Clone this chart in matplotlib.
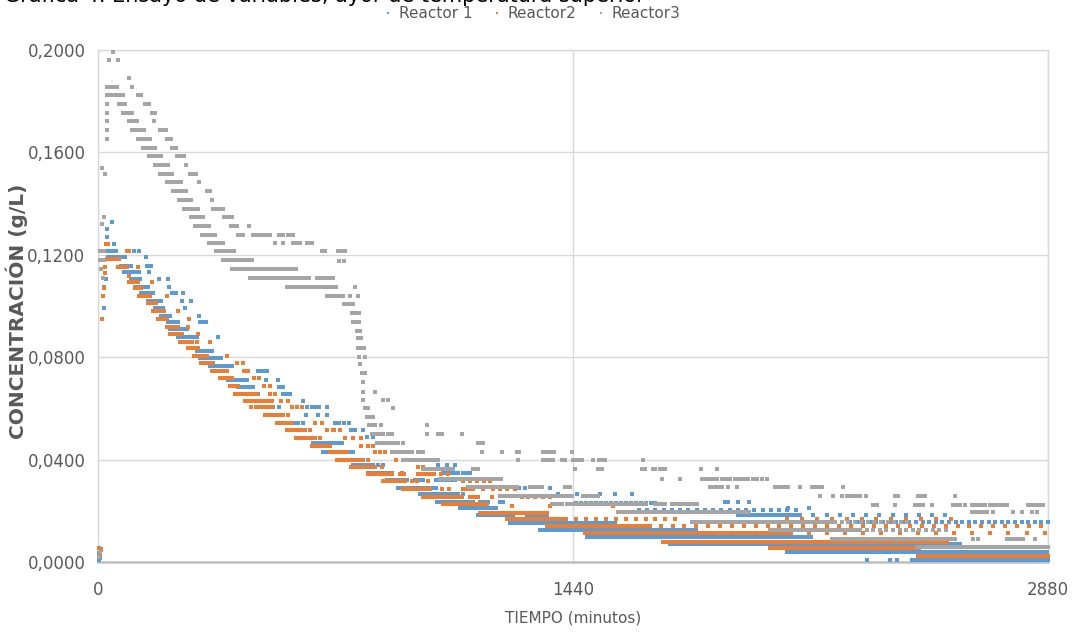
import numpy as np
import matplotlib
matplotlib.use("Agg")
import matplotlib.pyplot as plt
from matplotlib.ticker import FuncFormatter
from matplotlib.lines import Line2D

# Colores tipo Excel
azul = "#5B9BD5"
naranja = "#ED7D31"
gris = "#A5A5A5"
texto = "#595959"

# Datos: tramos (t inicio, t fin, concentracion) en minutos y g/L
r1_tramos = [(30, 55, 0.1215), (30, 82, 0.1191), (70, 100, 0.1156), (79, 106, 0.1133), (100, 127, 0.1105),
             (112, 152, 0.1074), (130, 155, 0.1051), (152, 179, 0.1020), (173, 197, 0.0992), (191, 218, 0.0961),
             (212, 243, 0.0938), (309, 327, 0.0938), (218, 270, 0.0910), (243, 300, 0.0879), (300, 340, 0.0824),
             (309, 361, 0.0797), (340, 406, 0.0766), (485, 512, 0.0746), (394, 452, 0.0711), (424, 470, 0.0684),
             (461, 485, 0.0656), (561, 582, 0.0656), (500, 527, 0.0629), (512, 531, 0.0605), (649, 658, 0.0605),
             (588, 606, 0.0543), (652, 740, 0.0463), (682, 773, 0.0430), (728, 803, 0.0398), (773, 834, 0.0379),
             (819, 891, 0.0348), (1046, 1091, 0.0348), (1107, 1128, 0.0348), (876, 937, 0.0320), (961, 985, 0.0320),
             (1025, 1082, 0.0320), (909, 1028, 0.0289), (976, 1091, 0.0266), (1028, 1137, 0.0234), (1158, 1182, 0.0234),
             (1219, 1228, 0.0234), (1097, 1210, 0.0211), (1152, 1258, 0.0184), (1301, 1361, 0.0184), (1249, 1310, 0.0152),
             (1340, 1604, 0.0125), (1482, 2160, 0.0098), (1734, 2613, 0.0070), (2089, 2880, 0.0039), (2468, 2880, 0.0008)]
# tramos con puntos dispersos (t inicio, t fin, concentracion, separacion)
r1_dispersos = [(1310, 1573, 0.0152, 8), (1604, 1816, 0.0125, 10), (2280, 2880, 0.0156, 20), (1450, 1700, 0.0231, 15),
                (1640, 2130, 0.0203, 25), (1940, 2130, 0.0184, 12), (2089, 2590, 0.0184, 40)]
r1_puntos = [(3, 0.0035), (6, 0.0015), (9, 0.0050), (3, 0.0008), (42, 0.1328), (27, 0.1301), (27, 0.1270), (30, 0.1242),
             (48, 0.1242), (24, 0.1105), (18, 0.1074), (18, 0.0992), (109, 0.1215), (124, 0.1215), (146, 0.1191),
             (149, 0.1156), (161, 0.1156), (115, 0.1133), (124, 0.1133), (155, 0.1133), (185, 0.1105), (212, 0.1105),
             (215, 0.1074), (167, 0.1051), (224, 0.1051), (236, 0.1051), (258, 0.1051), (191, 0.1020), (255, 0.1020),
             (282, 0.1020), (264, 0.0992), (306, 0.0961), (364, 0.0879), (346, 0.0824), (373, 0.0797), (509, 0.0711),
             (546, 0.0711), (549, 0.0684), (561, 0.0684), (621, 0.0629), (549, 0.0605), (634, 0.0605), (670, 0.0605),
             (694, 0.0605), (631, 0.0574), (667, 0.0574), (694, 0.0574), (621, 0.0543), (718, 0.0543), (731, 0.0543),
             (746, 0.0543), (761, 0.0543), (767, 0.0516), (779, 0.0516), (803, 0.0516), (815, 0.0488), (834, 0.0488),
             (849, 0.0379), (864, 0.0379), (1031, 0.0379), (1058, 0.0379), (1082, 0.0379), (922, 0.0348), (1276, 0.0289),
             (1294, 0.0289), (1370, 0.0289), (1107, 0.0266), (1394, 0.0266), (1452, 0.0266), (1522, 0.0266),
             (1567, 0.0266), (1619, 0.0266), (1900, 0.0234), (1910, 0.0234), (1940, 0.0234), (1975, 0.0234),
             (2092, 0.0211), (2155, 0.0211), (2331, 0.0008), (2401, 0.0008), (2422, 0.0008)]

r2_tramos = [(24, 30, 0.1242), (88, 94, 0.1215), (27, 64, 0.1184), (61, 88, 0.1152), (94, 121, 0.1094), (112, 130, 0.1070),
             (124, 158, 0.1039), (152, 176, 0.1012), (167, 194, 0.0980), (182, 209, 0.0949), (209, 243, 0.0918),
             (218, 255, 0.0891), (249, 285, 0.0859), (273, 303, 0.0836), (291, 330, 0.0805), (312, 349, 0.0777),
             (346, 391, 0.0746), (370, 406, 0.0719), (400, 424, 0.0688), (415, 482, 0.0656), (446, 527, 0.0629),
             (479, 527, 0.0605), (506, 561, 0.0574), (543, 588, 0.0543), (573, 628, 0.0516), (600, 658, 0.0484),
             (649, 703, 0.0453), (703, 755, 0.0430), (725, 788, 0.0398), (776, 840, 0.0371), (819, 891, 0.0344),
             (970, 1006, 0.0344), (864, 931, 0.0316), (925, 1006, 0.0285), (1107, 1137, 0.0285), (985, 1107, 0.0254),
             (1128, 1152, 0.0254), (1046, 1179, 0.0227), (1158, 1279, 0.0191), (1285, 1361, 0.0191), (1240, 1422, 0.0168),
             (1361, 1673, 0.0141), (1476, 2089, 0.0113), (1713, 2574, 0.0078), (2037, 2492, 0.0055), (2486, 2880, 0.0023)]
r2_dispersos = [(1420, 1750, 0.0168, 30), (1670, 2880, 0.0141, 36), (2100, 2880, 0.0113, 55), (2090, 2600, 0.0168, 45)]
r2_puntos = [(3, 0.0055), (6, 0.0030), (9, 0.0045), (12, 0.0949), (15, 0.1039), (18, 0.1070), (21, 0.1129), (21, 0.1152),
             (27, 0.1242), (121, 0.1152), (94, 0.1117), (164, 0.1094), (209, 0.1039), (200, 0.0980), (243, 0.0980),
             (276, 0.0949), (273, 0.0918), (303, 0.0891), (300, 0.0859), (340, 0.0859), (391, 0.0805), (421, 0.0777),
             (440, 0.0777), (443, 0.0746), (455, 0.0746), (473, 0.0719), (488, 0.0719), (503, 0.0688), (521, 0.0688),
             (521, 0.0656), (537, 0.0656), (555, 0.0629), (576, 0.0629), (464, 0.0605), (588, 0.0605), (603, 0.0605),
             (618, 0.0605), (576, 0.0574), (658, 0.0543), (679, 0.0543), (643, 0.0516), (694, 0.0516), (712, 0.0516),
             (715, 0.0516), (734, 0.0516), (673, 0.0484), (749, 0.0484), (773, 0.0484), (797, 0.0484), (797, 0.0453),
             (819, 0.0453), (834, 0.0453), (840, 0.0430), (855, 0.0430), (870, 0.0430), (800, 0.0398), (819, 0.0398),
             (903, 0.0398), (925, 0.0398), (767, 0.0371), (861, 0.0371), (970, 0.0371), (985, 0.0371), (916, 0.0344),
             (928, 0.0344), (1019, 0.0344), (1040, 0.0344), (1061, 0.0344), (952, 0.0316), (967, 0.0316), (1000, 0.0316),
             (1107, 0.0316), (1128, 0.0316), (1149, 0.0316), (1170, 0.0316), (1188, 0.0316), (1043, 0.0285),
             (1064, 0.0285), (1167, 0.0285), (1197, 0.0285), (1219, 0.0285), (1240, 0.0285), (1264, 0.0285),
             (1194, 0.0254), (1285, 0.0254), (1304, 0.0254), (1325, 0.0254), (1349, 0.0254), (1370, 0.0254),
             (1255, 0.0219), (1370, 0.0219), (1561, 0.0219)]

r3_tramos = [(27, 45, 0.1855), (27, 76, 0.1824), (64, 82, 0.1789), (76, 103, 0.1754), (164, 173, 0.1754), (94, 118, 0.1723),
             (103, 139, 0.1688), (188, 206, 0.1688), (121, 158, 0.1652), (209, 221, 0.1652), (136, 173, 0.1617),
             (224, 236, 0.1617), (155, 191, 0.1586), (240, 261, 0.1586), (173, 212, 0.1551), (188, 224, 0.1516),
             (279, 297, 0.1516), (209, 252, 0.1484), (227, 267, 0.1449), (330, 340, 0.1449), (246, 282, 0.1414),
             (261, 303, 0.1379), (349, 379, 0.1379), (282, 318, 0.1348), (382, 406, 0.1348), (294, 336, 0.1313),
             (403, 421, 0.1313), (315, 355, 0.1277), (424, 440, 0.1277), (576, 591, 0.1277), (337, 379, 0.1246),
             (591, 612, 0.1246), (634, 649, 0.1246), (358, 412, 0.1215), (679, 688, 0.1215), (728, 749, 0.1215),
             (379, 467, 0.1180), (406, 482, 0.1145), (461, 643, 0.1109), (664, 712, 0.1109), (573, 725, 0.1074),
             (694, 743, 0.1039), (746, 773, 0.1008), (770, 782, 0.0973), (773, 788, 0.0938), (788, 806, 0.0836),
             (809, 818, 0.0602), (815, 834, 0.0566), (822, 840, 0.0535), (831, 864, 0.0500), (1031, 1043, 0.0500),
             (846, 909, 0.0465), (1152, 1167, 0.0465), (891, 952, 0.0430), (970, 985, 0.0430), (1349, 1361, 0.0430),
             (925, 1031, 0.0398), (1361, 1379, 0.0398), (1407, 1416, 0.0398), (1440, 1467, 0.0398), (1519, 1537, 0.0398),
             (985, 1076, 0.0363), (1137, 1152, 0.0363), (1516, 1528, 0.0363), (1649, 1658, 0.0363), (1682, 1689, 0.0363),
             (1704, 1719, 0.0363), (1037, 1164, 0.0326), (1831, 1877, 0.0326), (1892, 1916, 0.0326), (1931, 1971, 0.0326),
             (1986, 1998, 0.0326), (1122, 1137, 0.0293), (1149, 1270, 0.0293), (1310, 1346, 0.0293), (1416, 1431, 0.0293),
             (1855, 1892, 0.0293), (2052, 2092, 0.0293), (2165, 2195, 0.0293), (1219, 1440, 0.0258), (1470, 1516, 0.0258),
             (2271, 2286, 0.0258), (2295, 2310, 0.0258), (2416, 2425, 0.0258), (2486, 2507, 0.0258), (1376, 1406, 0.0227),
             (1422, 1664, 0.0227), (1688, 1719, 0.0227), (1740, 1816, 0.0227), (2350, 2362, 0.0223), (2477, 2501, 0.0223),
             (2592, 2613, 0.0223), (2650, 2689, 0.0223), (2704, 2756, 0.0223), (2819, 2865, 0.0223), (2650, 2695, 0.0195),
             (1801, 2228, 0.0156), (2037, 2310, 0.0125), (2225, 2598, 0.0090), (2756, 2804, 0.0090), (2483, 2880, 0.0059)]
r3_dispersos = [(470, 528, 0.1277, 10), (491, 610, 0.1145, 12), (1167, 1225, 0.0326, 8), (1576, 1977, 0.0195, 7),
                (2234, 2462, 0.0156, 20), (2310, 2574, 0.0125, 20)]
r3_puntos = [(45, 0.1992), (33, 0.1961), (61, 0.1961), (94, 0.1891), (58, 0.1855), (103, 0.1855), (121, 0.1824),
             (130, 0.1824), (27, 0.1789), (143, 0.1789), (155, 0.1789), (27, 0.1754), (27, 0.1723), (170, 0.1723),
             (27, 0.1688), (27, 0.1652), (267, 0.1551), (306, 0.1484), (346, 0.1414), (458, 0.1313), (549, 0.1277),
             (561, 0.1277), (537, 0.1246), (561, 0.1246), (731, 0.1176), (746, 0.1176), (779, 0.1074), (764, 0.1039),
             (788, 0.1039), (791, 0.0973), (791, 0.0938), (785, 0.0902), (794, 0.0902), (788, 0.0875), (797, 0.0875),
             (791, 0.0801), (809, 0.0801), (794, 0.0773), (800, 0.0738), (809, 0.0738), (803, 0.0703), (803, 0.0664),
             (840, 0.0664), (803, 0.0633), (864, 0.0633), (879, 0.0633), (894, 0.0602), (858, 0.0535), (997, 0.0535),
             (879, 0.0500), (891, 0.0500), (997, 0.0500), (1104, 0.0500), (925, 0.0465), (1164, 0.0430), (1225, 0.0430),
             (1270, 0.0430), (1276, 0.0430), (1370, 0.0430), (1382, 0.0430), (1437, 0.0430), (1273, 0.0398),
             (1349, 0.0398), (1500, 0.0398), (1652, 0.0398), (1446, 0.0363), (1828, 0.0363), (1877, 0.0363),
             (1710, 0.0326), (1764, 0.0326), (2013, 0.0326), (2028, 0.0326), (1910, 0.0293), (1937, 0.0293),
             (2128, 0.0293), (2259, 0.0293), (2189, 0.0258), (2228, 0.0258), (2256, 0.0258), (2328, 0.0258),
             (2598, 0.0258), (2416, 0.0223), (2528, 0.0223), (2628, 0.0223), (2713, 0.0195), (2774, 0.0195),
             (2801, 0.0195), (2832, 0.0195), (2847, 0.0195), (2653, 0.0090), (2668, 0.0090), (2840, 0.0090),
             (6, 0.1215), (18, 0.1215), (6, 0.1180), (18, 0.1180), (10, 0.1145), (15, 0.1109), (21, 0.1516),
             (18, 0.1348), (12, 0.1540), (12, 0.1320), (6, 0.0040), (3, 0.0020)]

nombres = ["Reactor 1", "Reactor2", "Reactor3"]


def expandir(tramos, dispersos, puntos, paso=3):
    ts, cs = [], []
    for t0, t1, c in tramos:
        t = np.arange(t0, t1 + 0.5, paso)
        ts.append(t)
        cs.append(np.full(len(t), c))
    for t0, t1, c, p in dispersos:
        t = np.arange(t0, t1 + 0.5, p)
        ts.append(t)
        cs.append(np.full(len(t), c))
    pts = np.array(puntos)
    ts.append(pts[:, 0])
    cs.append(pts[:, 1])
    return np.concatenate(ts), np.concatenate(cs)


fig = plt.figure(figsize=(10.77, 6.35), dpi=100)
ax = fig.add_axes([98 / 1077, 73 / 635, 950 / 1077, 512 / 635])

series = [(r1_tramos, r1_dispersos, r1_puntos, azul),
          (r2_tramos, r2_dispersos, r2_puntos, naranja),
          (r3_tramos, r3_dispersos, r3_puntos, gris)]
for tramos, dispersos, puntos, color in series:
    t, c = expandir(tramos, dispersos, puntos)
    ax.scatter(t, c, s=5, marker="s", color=color, linewidths=0, clip_on=False, zorder=3)

ax.set_xlim(0, 2880)
ax.set_ylim(0, 0.2)
ax.set_xticks([0, 1440, 2880])
ax.set_yticks(np.arange(0, 0.2001, 0.04))
ax.yaxis.set_major_formatter(FuncFormatter(lambda v, pos: f"{v:.4f}".replace(".", ",")))
ax.tick_params(length=0, labelsize=12, labelcolor=texto)
ax.tick_params(axis="y", pad=9)
ax.tick_params(axis="x", pad=14)
ax.grid(True, color="#d9d9d9", linewidth=1, zorder=0)
ax.set_axisbelow(True)
for lado in ["left", "top", "right"]:
    ax.spines[lado].set_color("#d9d9d9")
    ax.spines[lado].set_linewidth(1)
ax.spines["bottom"].set_color("#bfbfbf")
ax.spines["bottom"].set_linewidth(1.8)

ax.set_xlabel("TIEMPO (minutos)", fontsize=11, color=texto, labelpad=8)
ax.set_ylabel("CONCENTRACIÓN (g/L)", fontsize=14.5, color=texto, fontweight="bold")
ax.yaxis.set_label_coords(-70 / 950, 0.49)

# titulo cortado en la parte superior
fig.text(0.004, 1 - 1.5 / 635, "Gráfica 4. Ensayo de variables, ayor de temperatura superior",
         fontsize=15, va="baseline", ha="left", color="black")

manejadores = [Line2D([], [], linestyle="none", marker="s", markersize=2, color=c, markeredgewidth=0)
               for c in [azul, naranja, gris]]
fig.legend(manejadores, nombres, loc="center", bbox_to_anchor=(531 / 1077, 1 - 14 / 635), ncol=3,
           frameon=False, fontsize=11, labelcolor=texto, handletextpad=0.3, columnspacing=1.2,
           handlelength=0.8, borderaxespad=0)

fig.savefig("out.png", dpi=100)
